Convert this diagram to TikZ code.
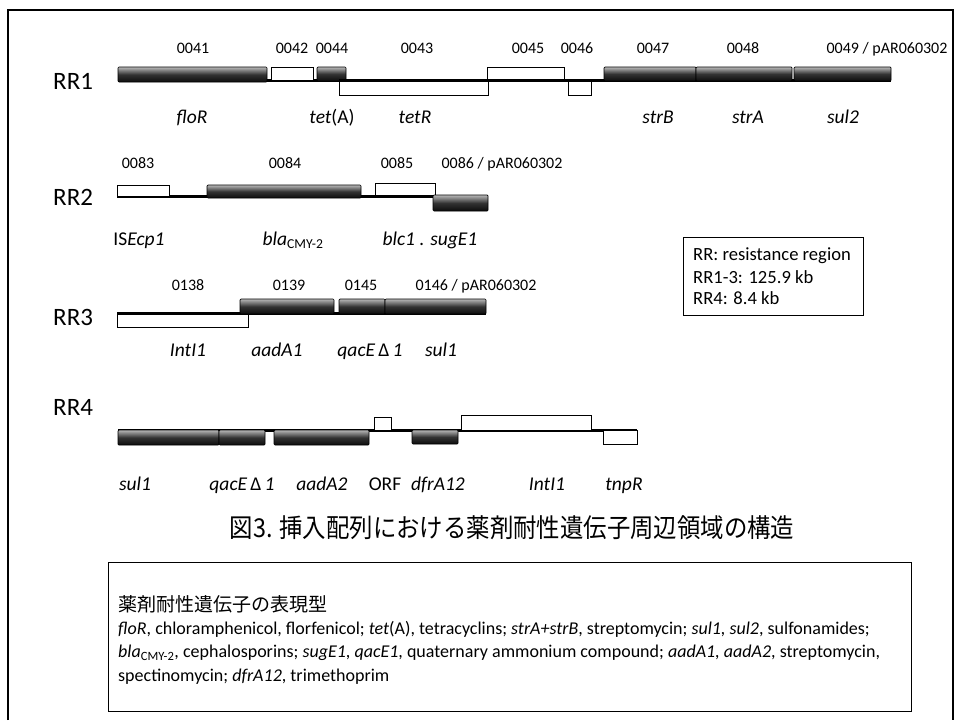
\documentclass[tikz,border=0pt]{standalone}
\usepackage{fontspec}
\setmainfont{Carlito}
\newfontfamily\jp{Noto Sans CJK JP}
\begin{document}
\begin{tikzpicture}[x=1pt,y=-1pt,
  dark/.style={draw=black,line width=0.7pt,top color=gray!55,bottom color=black!95,middle color=black!80,rounded corners=1pt},
  wbox/.style={draw=black,line width=0.8pt,fill=white},
  chrom/.style={line width=3pt},
  num/.style={font=\fontsize{16}{18}\selectfont,inner sep=0pt,anchor=base},
  gene/.style={font=\fontsize{19.5}{21}\selectfont\itshape,inner sep=0pt,anchor=base},
  rr/.style={font=\fontsize{25}{27}\selectfont,inner sep=0pt,anchor=west},
  lg/.style={font=\fontsize{18.6}{20}\selectfont,inner sep=0pt,anchor=west},
  bt/.style={font=\fontsize{18}{20}\selectfont,inner sep=0pt,anchor=west}]
\useasboundingbox (0,0) rectangle (957,720);
% outer frame
\draw[line width=1.5pt] (8,720) -- (8,10) -- (953,10) -- (953,720);

% ---------- RR1 ----------
\node[rr] (rr1) at (53,81) {RR1};
\coordinate (a1) at (118,80); \coordinate (b1) at (891,80);
\draw[chrom] (a1) -- (b1);
\draw[dark] (118,67) rectangle (267,82);
\draw[wbox] (271,67) rectangle (313,80);
\draw[dark] (317,67) rectangle (346,81);
\draw[wbox] (339,80) rectangle (488,95);
\draw[wbox] (487,67) rectangle (564,80);
\draw[wbox] (568,80) rectangle (591,95);
\draw[dark] (604,67) rectangle (696,81);
\draw[dark] (696,67) rectangle (792,81);
\draw[dark] (794,67) rectangle (891,81);
\draw[chrom] (339,80) -- (604,80);
\node[num] (n0041) at (193,53.5) {0041};
\node[num] (n0042) at (292,53.5) {0042};
\node[num] (n0044) at (332,53.5) {0044};
\node[num] (n0043) at (417,53.5) {0043};
\node[num] (n0045) at (528,53.5) {0045};
\node[num] (n0046) at (577,53.5) {0046};
\node[num] (n0047) at (653,53.5) {0047};
\node[num] (n0048) at (743,53.5) {0048};
\node[num] (n0049) at (887,53.5) {0049 / pAR060302};
\node[gene] (floR) at (192,123) {floR};
\node[gene] (tetA) at (332,123) {tet\upshape(A)};
\node[gene] (tetR) at (415,123) {tetR};
\node[gene] (strB) at (658,123) {strB};
\node[gene] (strA) at (748,123) {strA};
\node[gene] (sul2) at (843,123) {sul2};

% ---------- RR2 ----------
\node[rr] (rr2) at (53,197) {RR2};
\coordinate (a2) at (117,196.5); \coordinate (b2) at (488,196.5);
\draw[chrom] (a2) -- (b2);
\draw[wbox] (117,185) rectangle (169,196);
\draw[dark] (207,185) rectangle (361,198);
\draw[wbox] (375,183) rectangle (435,195);
\draw[dark] (433,195) rectangle (488,211);
\node[num] (n0083) at (138,168.5) {0083};
\node[num] (n0084) at (285,168.5) {0084};
\node[num] (n0085) at (397,168.5) {0085};
\node[num] (n0086) at (502,168.5) {0086 / pAR060302};
\node[gene] (isecp) at (139,245) {\upshape IS\itshape Ecp1};
\node[gene] (bla) at (293,245) {bla\textsubscript{\upshape CMY-2}};
\node[gene] (blc) at (430,245) {blc1 . sugE1};

% ---------- RR3 ----------
\node[rr] (rr3) at (53,317) {RR3};
\coordinate (a3) at (117,313); \coordinate (b3) at (486,313);
\draw[wbox] (117,313) rectangle (248,327);
\draw[chrom] (a3) -- (b3);
\draw[dark] (240,299) rectangle (334,314);
\draw[dark] (339,299) rectangle (385,314);
\draw[dark] (385,299) rectangle (486,314);
\node[num] (n0138) at (188,290.5) {0138};
\node[num] (n0139) at (289,290.5) {0139};
\node[num] (n0145) at (361,290.5) {0145};
\node[num] (n0146) at (476,290.5) {0146 / pAR060302};
\node[gene] (int1) at (188,356) {IntI1};
\node[gene] (aada1) at (277,356) {aadA1};
\node[gene] (qac1) at (370,356) {qacE\,\upshape Δ\,\itshape 1};
\node[gene] (sul1a) at (441,356) {sul1};

% ---------- RR4 ----------
\node[rr] (rr4) at (53,407) {RR4};
\coordinate (a4) at (118,430); \coordinate (b4) at (637,430);
\draw[chrom] (a4) -- (b4);
\draw[dark] (118,430) rectangle (219,445);
\draw[dark] (219,430) rectangle (265,445);
\draw[dark] (274,430) rectangle (369,445);
\draw[wbox] (374,417) rectangle (391,430);
\draw[dark] (412,430) rectangle (458,444);
\draw[wbox] (461,415) rectangle (591,430);
\draw[wbox] (603,430) rectangle (637,444);
\node[gene] (sul1b) at (135,490) {sul1};
\node[gene] (qac2) at (242,490) {qacE\,\upshape Δ\,\itshape 1};
\node[gene] (aada2) at (322,490) {aadA2};
\node[gene] (orf) at (385,490) {\upshape ORF};
\node[gene] (dfr) at (438,490) {dfrA12};
\node[gene] (int2) at (547,490) {IntI1};
\node[gene] (tnpr) at (624,490) {tnpR};

% ---------- legend ----------
\node[draw=black,line width=0.8pt,minimum width=180pt,minimum height=78pt,anchor=north west] (leg) at (683,237) {};
\node[lg] (l1) at (693,256) {RR: resistance region};
\node[lg] (l2) at (693,277) {RR1-3: 125.9 kb};
\node[lg] (l3) at (693,298) {RR4: 8.4 kb};

% ---------- title ----------
\node[inner sep=0pt] (title) at (512,528) {\scalebox{0.9}[1]{\fontsize{26}{28}\jp 図3. 挿入配列における薬剤耐性遺伝子周辺領域の構造}};

% ---------- bottom box ----------
\node[draw=black,line width=0.8pt,minimum width=803pt,minimum height=149pt,anchor=north west] (box) at (108,562) {};
\node[bt,font=\fontsize{19}{21}\jp] (h) at (118,604) {薬剤耐性遺伝子の表現型};
\node[bt] (t1) at (118,629) {\textit{floR}, chloramphenicol, florfenicol; \textit{tet}(A), tetracyclins; \textit{strA+strB}, streptomycin; \textit{sul1, sul2}, sulfonamides;};
\node[bt] (t2) at (118,653) {\textit{bla}\textsubscript{CMY-2}, cephalosporins; \textit{sugE1}, \textit{qacE1}, quaternary ammonium compound; \textit{aadA1, aadA2}, streptomycin,};
\node[bt] (t3) at (118,677) {spectinomycin; \textit{dfrA12}, trimethoprim};
\end{tikzpicture}
\end{document}
